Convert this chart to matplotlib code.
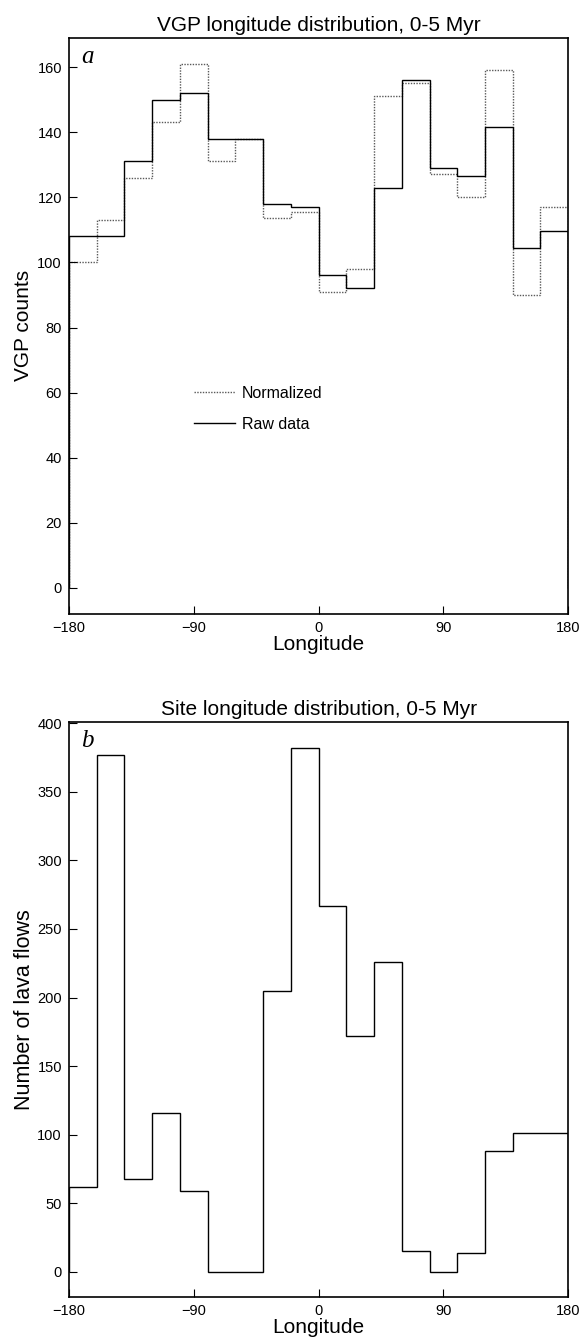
import matplotlib
matplotlib.use("Agg")
import matplotlib.pyplot as plt
import numpy as np

plt.rcParams['font.family'] = ['Liberation Sans', 'DejaVu Sans']

# LONGITUDE BINS (20 degree wide)
bin_edges = np.arange(-180, 181, 20)

# PANEL a: VGP COUNTS
vgp_raw = [108, 108, 131, 150, 152, 138, 138, 118, 117, 96, 92, 123, 156, 129, 126.5, 141.5, 104.5, 109.5]
vgp_norm = [100, 113, 126, 143, 161, 131, 138, 113.5, 115.5, 91, 98, 151, 155, 127, 120, 159, 90, 117]

# PANEL b: SITE COUNTS
site_counts = [62, 377, 68, 116, 59, 0, 0, 205, 382, 267, 172, 226, 15, 0, 14, 88, 101, 101]

xticks = [-180, -90, 0, 90, 180]

fig = plt.figure(figsize=(5.84, 13.43), dpi=100)
ax1 = fig.add_axes([0.118, 0.5428, 0.855, 0.4291])
ax2 = fig.add_axes([0.118, 0.0345, 0.855, 0.4281])

# top panel
ax1.stairs(vgp_norm, bin_edges, color='0.35', linestyle=(0, (1, 1)), linewidth=1.0, label='Normalized')
ax1.stairs(vgp_raw, bin_edges, color='black', linewidth=1.0, label='Raw data')
ax1.set_xlim(-180, 180)
ax1.set_ylim(-8, 169)
ax1.set_yticks(range(0, 161, 20))
ax1.set_title("VGP longitude distribution, 0-5 Myr", fontsize=15, pad=5)
ax1.set_ylabel("VGP counts", fontsize=15, labelpad=3)
ax1.legend(loc='center left', bbox_to_anchor=(0.25, 0.3566), frameon=False,
           fontsize=11.5, handlelength=2.6, handletextpad=0.4, labelspacing=1.0,
           borderpad=0, borderaxespad=0)
ax1.text(0.025, 0.985, 'a', transform=ax1.transAxes, fontsize=18, style='italic',
         family='Liberation Serif', va='top', ha='left')

# bottom panel
ax2.stairs(site_counts, bin_edges, color='black', linewidth=1.0)
ax2.set_xlim(-180, 180)
ax2.set_ylim(-18, 401)
ax2.set_yticks(range(0, 401, 50))
ax2.set_title("Site longitude distribution, 0-5 Myr", fontsize=15, pad=5)
ax2.set_ylabel("Number of lava flows", fontsize=15.5, labelpad=2)
ax2.text(0.025, 0.985, 'b', transform=ax2.transAxes, fontsize=18, style='italic',
         family='Liberation Serif', va='top', ha='left')

for ax in (ax1, ax2):
    ax.set_xticks(xticks)
    ax.set_xlabel("Longitude", fontsize=15, labelpad=0)
    ax.tick_params(direction='in', length=6, width=0.8, labelsize=10.5, pad=5)
    for s in ax.spines.values():
        s.set_linewidth(1.2)

fig.savefig("out.png", dpi=100)
